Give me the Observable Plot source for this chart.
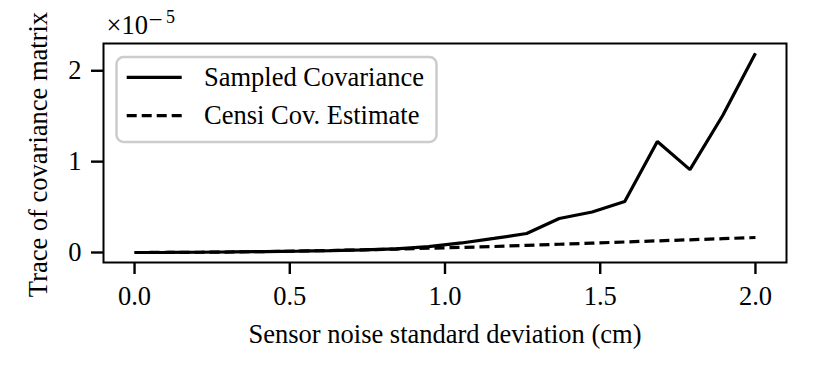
<!DOCTYPE html>
<html>
<head>
<meta charset="utf-8">
<script src="https://cdn.jsdelivr.net/npm/d3@7"></script>
<script src="https://cdn.jsdelivr.net/npm/@observablehq/plot@0.6"></script>
<style>
  body { margin: 0; background: #fff; }
  #wrap { position: relative; width: 829px; height: 365px; font-family: "Liberation Serif", serif; }
  #legend { position: absolute; left: 0; top: 0; pointer-events: none; }
</style>
</head>
<body>
<div id="wrap"></div>
<script>
// Sensor noise standard deviation (cm)
const sigma = [0, 0.105, 0.211, 0.316, 0.421, 0.526, 0.632, 0.737, 0.842, 0.947,
               1.053, 1.158, 1.263, 1.368, 1.474, 1.579, 1.684, 1.789, 1.895, 2.0];
// Trace of covariance matrix, in units of 1e-5
const sampled = [0, 0.001, 0.003, 0.006, 0.010, 0.015, 0.021, 0.029, 0.040, 0.065,
                 0.105, 0.155, 0.209, 0.374, 0.446, 0.562, 1.222, 0.912, 1.510, 2.193];
const censi = [0, 0.001, 0.003, 0.006, 0.010, 0.016, 0.022, 0.030, 0.038, 0.047,
               0.056, 0.066, 0.079, 0.091, 0.103, 0.116, 0.128, 0.140, 0.152, 0.165];
const seriesNames = ["Sampled Covariance", "Censi Cov. Estimate"];
const xTicks = [0, 0.5, 1.0, 1.5, 2.0];
const yTicks = [0, 1, 2];
const xLabel = "Sensor noise standard deviation (cm)";
const yLabel = "Trace of covariance matrix";

const rows = sigma.map((s, i) => ({s, sampled: sampled[i], censi: censi[i]}));

const FONT = "Liberation Serif";
const FS = 26.5;

const chart = Plot.plot({
  width: 829,
  height: 365,
  marginLeft: 103,
  marginRight: 43,
  marginTop: 43,
  marginBottom: 103,
  style: {fontFamily: FONT, fontSize: FS + "px", background: "white", color: "black", overflow: "visible"},
  x: {domain: [-0.1, 2.1]},
  y: {domain: [-0.11, 2.30]},
  marks: [
    Plot.line(rows, {x: "s", y: "sampled", stroke: "black", strokeWidth: 3.2, strokeLinejoin: "miter", strokeLinecap: "butt"}),
    Plot.line(rows, {x: "s", y: "censi", stroke: "black", strokeWidth: 3.2, strokeDasharray: "10,5", strokeLinecap: "butt"}),
    Plot.frame({stroke: "black", strokeWidth: 2}),
    Plot.axisX(xTicks, {tickSize: 12, tickPadding: 12, strokeWidth: 2.4, tickFormat: d => d.toFixed(1), label: null, fontSize: FS}),
    Plot.axisY(yTicks, {tickSize: 12, tickPadding: 10, strokeWidth: 2.4, tickFormat: d => String(d), label: null, fontSize: FS}),
    Plot.text([xLabel], {text: d => d, frameAnchor: "bottom", textAnchor: "middle", lineAnchor: "middle", dy: 72, fontSize: FS}),
    Plot.text([yLabel], {text: d => d, frameAnchor: "left", textAnchor: "middle", lineAnchor: "middle", rotate: -90, dx: -64.5, dy: 1.5, fontSize: FS}),
    Plot.text(["\u00d710"], {text: d => d, frameAnchor: "top-left", textAnchor: "start", lineAnchor: "middle", dx: 3, dy: -18.2, fontSize: FS}),
    Plot.text(["\u2212"], {text: d => d, frameAnchor: "top-left", textAnchor: "start", lineAnchor: "middle", dx: 45, dy: -24, fontSize: 25}),
    Plot.text(["5"], {text: d => d, frameAnchor: "top-left", textAnchor: "start", lineAnchor: "middle", dx: 62.5, dy: -26, fontSize: 18})
  ]
});

const wrap = document.getElementById("wrap");
wrap.appendChild(chart);

// Legend overlay
const lg = d3.select(wrap).append("svg")
  .attr("id", "legend")
  .attr("width", 829).attr("height", 365);
const box = {x: 116.5, y: 57, w: 320, h: 85};
lg.append("rect")
  .attr("x", box.x).attr("y", box.y).attr("width", box.w).attr("height", box.h)
  .attr("rx", 7).attr("ry", 7)
  .attr("fill", "white").attr("fill-opacity", 0.8)
  .attr("stroke", "#cccccc").attr("stroke-width", 2.5);
const dashes = [null, "10,5"];
seriesNames.forEach((name, i) => {
  const yy = 77.3 + i * 38.4;
  lg.append("line")
    .attr("x1", 126.7).attr("x2", 181.7).attr("y1", yy).attr("y2", yy)
    .attr("stroke", "black").attr("stroke-width", 3.2)
    .attr("stroke-dasharray", dashes[i]);
  lg.append("text")
    .attr("x", 204).attr("y", yy + 8.6)
    .attr("font-family", FONT).attr("font-size", FS)
    .attr("fill", "black")
    .text(name);
});
</script>
</body>
</html>
